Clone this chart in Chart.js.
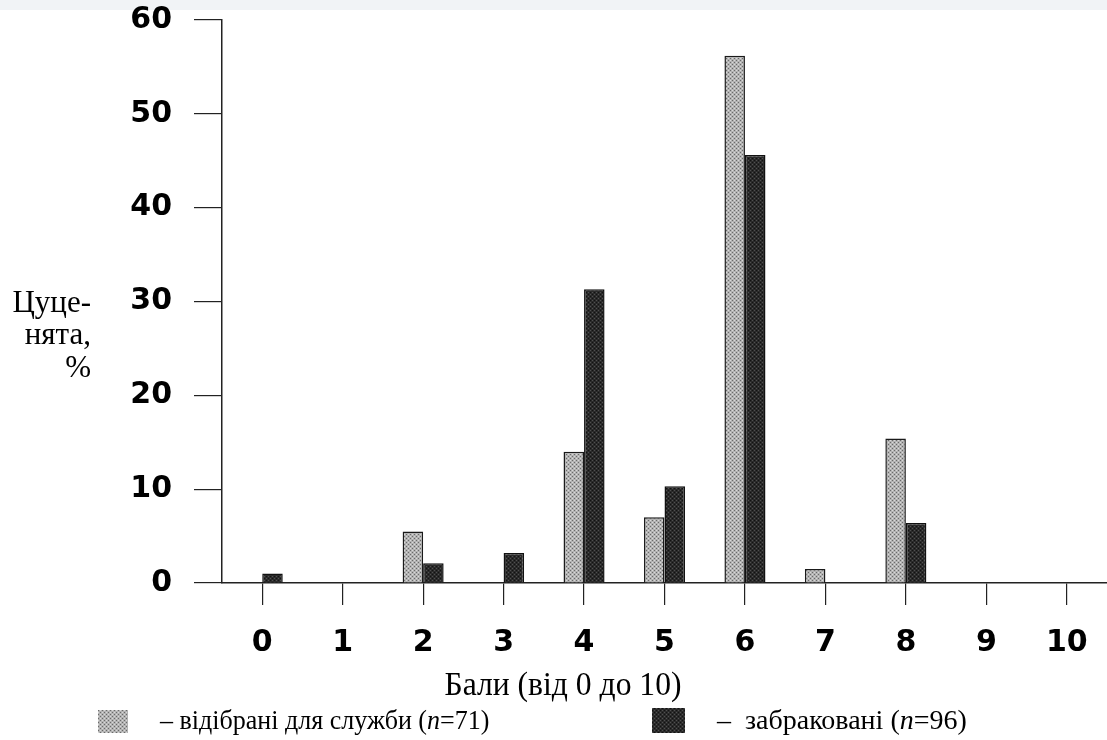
<!DOCTYPE html>
<html>
<head>
<meta charset="utf-8">
<script src="https://cdn.jsdelivr.net/npm/chart.js@4"></script>
<style>
  html, body { margin: 0; padding: 0; background: #ffffff; }
  #wrap { position: relative; width: 1107px; height: 740px; }
</style>
</head>
<body>
<div id="wrap"><canvas id="c" width="1107" height="740"></canvas></div>
<script>
const categories = ['0', '1', '2', '3', '4', '5', '6', '7', '8', '9', '10'];
const selectedValues = [0, 0, 5.5, 0, 14.0, 7.0, 56.2, 1.5, 15.4, 0, 0];
const rejectedValues = [1.0, 0, 2.1, 3.2, 31.3, 10.3, 45.6, 0, 6.4, 0, 0];
const yTicks = [0, 10, 20, 30, 40, 50, 60];
const selectedLabel = ['– відібрані для служби (', 'n', '=71)'];
const rejectedLabel = ['–  забраковані (', 'n', '=96)'];
const xTitle = 'Бали (від 0 до 10)';
const yTitleLines = ['Цуце-', 'нята,', '%'];

function makePattern(base, dot, dot2) {
  const p = document.createElement('canvas');
  p.width = 4; p.height = 4;
  const g = p.getContext('2d');
  g.fillStyle = base; g.fillRect(0, 0, 4, 4);
  g.fillStyle = dot;
  g.fillRect(0, 0, 1, 1); g.fillRect(2, 2, 1, 1);
  g.fillStyle = dot2;
  g.fillRect(2, 0, 1, 1); g.fillRect(0, 2, 1, 1);
  return document.getElementById('c').getContext('2d').createPattern(p, 'repeat');
}
const lightFill = makePattern('#b2b2b2', '#6a6a6a', '#d8d8d8');
const darkFill = makePattern('#2a2a2a', '#505050', '#121212');

const SERIF = '"Liberation Serif", "Times New Roman", serif';

function squeezedText(ctx, text, x, y, sx, align) {
  ctx.save();
  const w = ctx.measureText(text).width * sx;
  let left = x;
  if (align === 'center') left = x - w / 2;
  else if (align === 'right') left = x - w;
  ctx.translate(left, y);
  ctx.scale(sx, 1);
  ctx.textAlign = 'left';
  ctx.fillText(text, 0, 0);
  ctx.restore();
  return w;
}

const decorPlugin = {
  id: 'decor',
  beforeDraw(chart) {
    const ctx = chart.ctx;
    ctx.save();
    ctx.fillStyle = '#f1f3f6';
    ctx.fillRect(0, 0, chart.width, 10);
    ctx.restore();
  },
  afterDraw(chart) {
    const ctx = chart.ctx;
    ctx.save();
    ctx.fillStyle = '#000';
    ctx.textBaseline = 'alphabetic';
    // Y title
    ctx.font = '31px ' + SERIF;
    const yl = [312, 344, 377];
    yTitleLines.forEach((t, i) => squeezedText(ctx, t, 91, yl[i], 1.0, 'right'));
    // X title
    ctx.font = '34px ' + SERIF;
    squeezedText(ctx, xTitle, 563, 695, 0.93, 'center');
    // Legend
    const drawMixed = (parts, x, y, sx) => {
      parts.forEach((p, i) => {
        ctx.font = (i === 1 ? 'italic ' : '') + '28px ' + SERIF;
        x += squeezedText(ctx, p, x, y, sx, 'left');
      });
    };
    ctx.fillStyle = lightFill;
    ctx.fillRect(98, 710, 30, 23);
    ctx.fillStyle = darkFill;
    ctx.fillRect(652, 708, 33, 25);
    ctx.fillStyle = '#000';
    drawMixed(selectedLabel, 160, 729, 0.93);
    drawMixed(rejectedLabel, 717, 729, 1.0);
    ctx.restore();
  }
};

new Chart(document.getElementById('c'), {
  type: 'bar',
  data: {
    labels: categories,
    datasets: [
      { label: 'selected', data: selectedValues, backgroundColor: lightFill, borderColor: '#1a1a1a', borderWidth: 1.5, borderSkipped: 'bottom' },
      { label: 'rejected', data: rejectedValues, backgroundColor: darkFill, borderColor: '#111', borderWidth: 1.5, borderSkipped: 'bottom' }
    ]
  },
  options: {
    responsive: false,
    animation: false,
    devicePixelRatio: 1,
    layout: { padding: { top: 20, right: 0, left: 0, bottom: 0 } },
    plugins: { legend: { display: false }, tooltip: { enabled: false } },
    datasets: { bar: { categoryPercentage: 0.51, barPercentage: 1.0 } },
    scales: {
      x: {
        offset: true,
        grid: { offset: false, drawOnChartArea: false, drawTicks: true, tickLength: 22, color: '#222', lineWidth: 1.2 },
        border: { display: true, color: '#222', width: 1.5 },
        ticks: { color: '#000', font: { family: 'DejaVu Sans', size: 30, weight: 'bold' }, padding: 20, maxRotation: 0 },
        afterFit(s) { s.height = 157; s.paddingLeft = 0; s.paddingRight = 0; }
      },
      y: {
        min: 0, max: 60,
        afterBuildTicks(s) { s.ticks = yTicks.map(v => ({ value: v })); },
        grid: { drawOnChartArea: false, drawTicks: true, tickLength: 28, color: '#222', lineWidth: 1.2 },
        border: { display: true, color: '#222', width: 1.5 },
        ticks: { color: '#000', font: { family: 'DejaVu Sans', size: 30, weight: 'bold' }, padding: 22 },
        afterFit(s) { s.width = 222; s.paddingTop = 0; s.paddingBottom = 0; }
      }
    }
  },
  plugins: [decorPlugin]
});
</script>
</body>
</html>
